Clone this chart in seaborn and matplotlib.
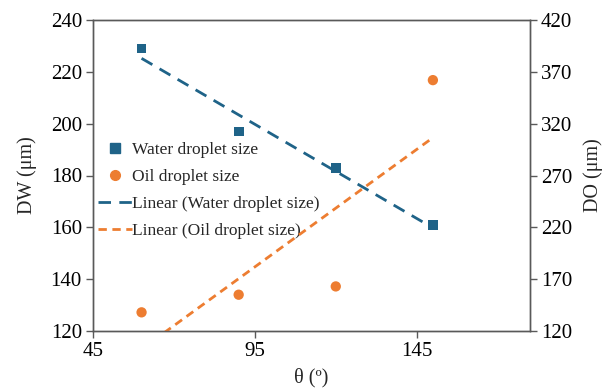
import numpy as np
import pandas as pd
import matplotlib
matplotlib.use("Agg")
import matplotlib.pyplot as plt
import seaborn as sns
from matplotlib.lines import Line2D

sns.set_theme(style="white")
plt.rcParams["font.family"] = ["Liberation Serif", "DejaVu Serif"]
plt.rcParams["font.size"] = 15
plt.rcParams["mathtext.fontset"] = "stix"

theta = [60, 90, 120, 150]
water_size = [229, 197, 183, 161]
oil_size = [138, 155, 163, 362]

water_color = "#1F6388"
oil_color = "#ED7D31"
spine_color = "#595959"

df = pd.DataFrame({"theta": theta, "water": water_size, "oil": oil_size})

fig = plt.figure(figsize=(6.07, 3.90), dpi=100)
ax = fig.add_axes([93 / 607, 1 - 331 / 390, (530 - 93) / 607, (331 - 20) / 390])
ax2 = ax.twinx()

sns.scatterplot(data=df, x="theta", y="water", ax=ax, marker="s", s=50,
                color=water_color, edgecolor="none", zorder=3)
sns.regplot(data=df, x="theta", y="water", ax=ax, scatter=False, ci=None,
            line_kws=dict(color=water_color, lw=2, dashes=(4.5, 3)))

sns.scatterplot(data=df, x="theta", y="oil", ax=ax2, marker="o", s=55,
                color=oil_color, edgecolor="none", zorder=3)
sns.regplot(data=df, x="theta", y="oil", ax=ax2, scatter=False, ci=None,
            line_kws=dict(color=oil_color, lw=2, dashes=(3, 2)))

ax.set_xlim(45, 180)
ax.set_ylim(120, 240)
ax2.set_ylim(120, 420)
ax.set_xticks([45, 95, 145])
ax.set_yticks(np.arange(120, 241, 20))
ax2.set_yticks(np.arange(120, 421, 50))

ax.set_xlabel("θ (º)", fontsize=14.5, labelpad=5)
ax.set_ylabel("DW (μm)", fontsize=14.5, labelpad=10)
ax2.set_ylabel("DO (μm)", fontsize=14.5, labelpad=8)

for a in (ax, ax2):
    for s in a.spines.values():
        s.set_color(spine_color)
        s.set_linewidth(1.0)
    a.tick_params(axis="both", direction="out", length=5, width=1,
                  color=spine_color, labelsize=15, labelcolor="black", pad=3)
    a.grid(False)
ax.tick_params(axis="y", left=True)
ax.tick_params(axis="x", bottom=True)
ax2.tick_params(axis="y", right=True)

handles = [
    Line2D([], [], ls="none", marker="s", ms=6.5, color=water_color),
    Line2D([], [], ls="none", marker="o", ms=7, color=oil_color),
    Line2D([], [], color=water_color, lw=2, dashes=(4.5, 3)),
    Line2D([], [], color=oil_color, lw=2, dashes=(3, 2)),
]
labels = ["Water droplet size", "Oil droplet size",
          "Linear (Water droplet size)", "Linear (Oil droplet size)"]
ax.legend(handles, labels, loc="upper left", bbox_to_anchor=(-0.005, 0.63),
          frameon=False, fontsize=12.5, handlelength=2.0, handletextpad=0.0,
          labelspacing=0.62, borderaxespad=0)

fig.savefig("out.png", dpi=100)
